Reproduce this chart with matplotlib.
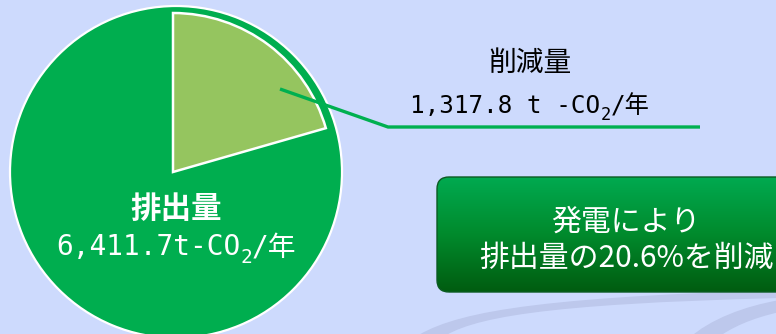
import matplotlib.pyplot as plt
import numpy as np
from matplotlib.colors import LinearSegmentedColormap
from matplotlib.patches import FancyBboxPatch, PathPatch
from matplotlib.path import Path

# annual CO2 figures, t-CO2 per year
emission = 6411.7
reduction = 1317.8
share = reduction / emission

emission_title = "排出量"
reduction_title = "削減量"
box_lines = ["発電により", f"排出量の{share * 100:.1f}%を削減"]

BG = "#CDDAFD"
SWOOSH = "#BDC8EC"
DARK = "#00AE4F"
LIGHT = "#95C55F"
LINE = "#00B050"
JP = ["Noto Sans CJK JP", "DejaVu Sans"]
MONO = ["DejaVu Sans Mono", "Noto Sans CJK JP"]

W, H = 776, 334
fig = plt.figure(figsize=(W / 100, H / 100), dpi=100, facecolor=BG)
ax = fig.add_axes([0, 0, 1, 1])
ax.set_facecolor(BG)


def swoosh(pts, codes):
    ax.add_patch(PathPatch(Path(pts, codes), facecolor=SWOOSH, edgecolor="none", zorder=0))


C4, L = Path.CURVE4, Path.LINETO
swoosh([(412, -5), (450, 20), (520, 36), (780, 44), (780, 36), (540, 30), (470, 16), (440, -5), (412, -5)],
       [Path.MOVETO, C4, C4, C4, L, C4, C4, C4, Path.CLOSEPOLY])
swoosh([(688, -5), (710, 15), (745, 28), (780, 34), (780, 22), (752, 16), (730, 6), (716, -5), (688, -5)],
       [Path.MOVETO, C4, C4, C4, L, C4, C4, C4, Path.CLOSEPOLY])

# whole emission as the full disc, the reduced share as a smaller wedge on top
ax.pie([emission], colors=[DARK], radius=166, center=(176, 162), startangle=90,
       wedgeprops=dict(edgecolor="white", linewidth=1.6))
wedges, _ = ax.pie([reduction, emission - reduction], colors=[LIGHT, DARK], radius=159,
                   center=(173, 162), startangle=90, counterclock=False,
                   wedgeprops=dict(edgecolor="white", linewidth=1.8))
wedges[1].set_visible(False)

ax.plot([280, 388, 700], [245, 207, 207], color=LINE, lw=2.4, solid_capstyle="butt")

# gradient box
box = FancyBboxPatch((437, 42), 380, 115, boxstyle="round,pad=0,rounding_size=12",
                     facecolor="none", edgecolor="#0B5B22", lw=1.0, zorder=3)
ax.add_patch(box)
cmap = LinearSegmentedColormap.from_list("g", ["#005C10", "#008A2C", "#00AA50"])
grad = np.linspace(0, 1, 256).reshape(-1, 1)
img = ax.imshow(grad, cmap=cmap, extent=(437, 817, 42, 157), origin="lower",
                aspect="auto", zorder=2)
img.set_clip_path(box)
ax.text(626, 112, box_lines[0], family=JP, size=21.5, color="white",
        ha="center", va="center", zorder=4)
ax.text(626, 76, box_lines[1], family=JP, size=21.5, color="white",
        ha="center", va="center", zorder=4)


def co2_label(x, y, value, size, color, weight, sub_drop):
    kw = dict(family=MONO, color=color, weight=weight, zorder=5)
    head = ax.text(x, y, f"{value}-CO", size=size, ha="left", va="baseline", **kw)
    sub = ax.annotate("2", xy=(1, 0), xycoords=head, xytext=(0, -sub_drop),
                      textcoords="offset points", size=size * 0.7, va="bottom", **kw)
    tail = ax.annotate("/年", xy=(1, 0), xycoords=(sub, head), size=size,
                       va="bottom", **kw)
    return head, tail


ax.text(530, 271, reduction_title, family=JP, size=20, color="black",
        ha="center", va="center")
top_head, top_tail = co2_label(405, 221, f"{reduction:,.1f} t ", 17.5, "black", "normal", 4)

ax.text(176, 125, emission_title, family=JP, size=22, color="white",
        weight="bold", ha="center", va="center", zorder=5)
pie_head, pie_tail = co2_label(55, 79, f"{emission:,.1f}t", 20, "white", "normal", 4.5)

ax.set_xlim(0, W)
ax.set_ylim(0, H)
ax.set_aspect("equal")
ax.axis("off")

# centre each CO2 line on its own x
fig.canvas.draw()
r = fig.canvas.get_renderer()
for head, tail, cx in [(top_head, top_tail, 530), (pie_head, pie_tail, 176)]:
    left = head.get_window_extent(r).x0
    right = tail.get_window_extent(r).x1
    dx = cx - (left + right) / 2
    x, y = head.get_position()
    head.set_position((x + dx, y))

fig.savefig("out.png", dpi=100, facecolor=BG)
